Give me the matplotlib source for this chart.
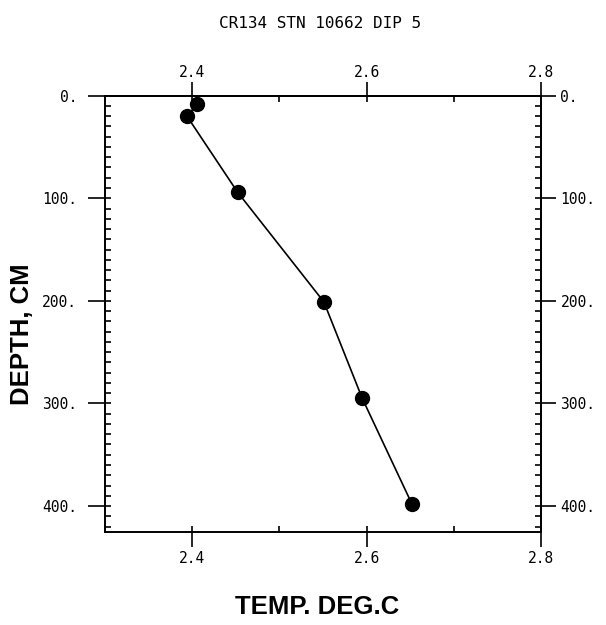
import matplotlib
matplotlib.use("Agg")
import matplotlib.pyplot as plt
from matplotlib.ticker import MultipleLocator, FixedLocator

# Temperature profile, station 10662 dip 5
temp_c = [2.406, 2.394, 2.452, 2.551, 2.595, 2.652]
depth_cm = [8, 20, 94, 201, 295, 398]

x_major = [2.4, 2.6, 2.8]
x_major_labels = ["2.4", "2.6", "2.8"]
y_major = [0, 100, 200, 300, 400]
y_major_labels = ["0.", "100.", "200.", "300.", "400."]

title_text = "CR134 STN 10662 DIP 5"
xlabel_text = "TEMP. DEG.C"
ylabel_text = "DEPTH, CM"

mono = "DejaVu Sans Mono"
sans = "Liberation Sans"

fig = plt.figure(figsize=(6.06, 6.25), dpi=100)
ax = fig.add_axes([0.1733, 0.1493, 0.8927 - 0.1733, 0.8469 - 0.1493])

ax.plot(temp_c, depth_cm, color="black", lw=1.2, marker="o",
        markersize=10, markerfacecolor="black", markeredgecolor="black",
        zorder=3)

ax.set_xlim(2.3, 2.8)
ax.set_ylim(425, 0)

for s in ax.spines.values():
    s.set_linewidth(1.4)

# bottom / left axes
ax.xaxis.set_major_locator(FixedLocator(x_major))
ax.xaxis.set_minor_locator(MultipleLocator(0.1))
ax.yaxis.set_major_locator(FixedLocator(y_major))
ax.yaxis.set_minor_locator(MultipleLocator(10))
ax.xaxis.remove_overlapping_locs = False
ax.yaxis.remove_overlapping_locs = False
ax.set_xticklabels(x_major_labels, fontfamily=mono, fontsize=10.5)
ax.set_yticklabels(y_major_labels, fontfamily=mono, fontsize=10.5)
ax.tick_params(axis="x", which="major", direction="out", length=11,
               width=1.2, pad=3)
ax.tick_params(axis="x", which="minor", direction="in", length=4, width=1.2)
ax.tick_params(axis="y", which="major", direction="out", length=12,
               width=1.2, pad=8)
ax.tick_params(axis="y", which="minor", direction="in", length=4, width=1.2)

# top axis
top = ax.secondary_xaxis("top")
top.xaxis.set_major_locator(FixedLocator(x_major))
top.xaxis.set_minor_locator(MultipleLocator(0.1))
top.xaxis.remove_overlapping_locs = False
top.set_xticklabels(x_major_labels, fontfamily=mono, fontsize=10.5)
top.tick_params(axis="x", which="major", direction="out", length=10,
                width=1.2, pad=1)
top.tick_params(axis="x", which="minor", direction="in", length=4, width=1.2)
top.spines["top"].set_linewidth(1.4)

# right axis
right = ax.secondary_yaxis("right")
right.yaxis.set_major_locator(FixedLocator(y_major))
right.yaxis.set_minor_locator(MultipleLocator(10))
right.yaxis.remove_overlapping_locs = False
right.set_yticklabels(y_major_labels, fontfamily=mono, fontsize=10.5)
right.tick_params(axis="y", which="major", direction="out", length=11,
                  width=1.2, pad=3)
right.tick_params(axis="y", which="minor", direction="in", length=4, width=1.2)
right.spines["right"].set_linewidth(1.4)

fig.text(320 / 606, 1 - 23.5 / 625, title_text, fontfamily=mono,
         fontsize=11.5, ha="center", va="center")
fig.text(317 / 606, 1 - 607 / 625, xlabel_text, fontfamily=sans,
         fontweight="bold", fontsize=18.5, ha="center", va="center")
fig.text(22 / 606, 1 - 334 / 625, ylabel_text, fontfamily=sans,
         fontweight="bold", fontsize=18.5, ha="center", va="center",
         rotation=90)

fig.savefig("out.png", dpi=100)
